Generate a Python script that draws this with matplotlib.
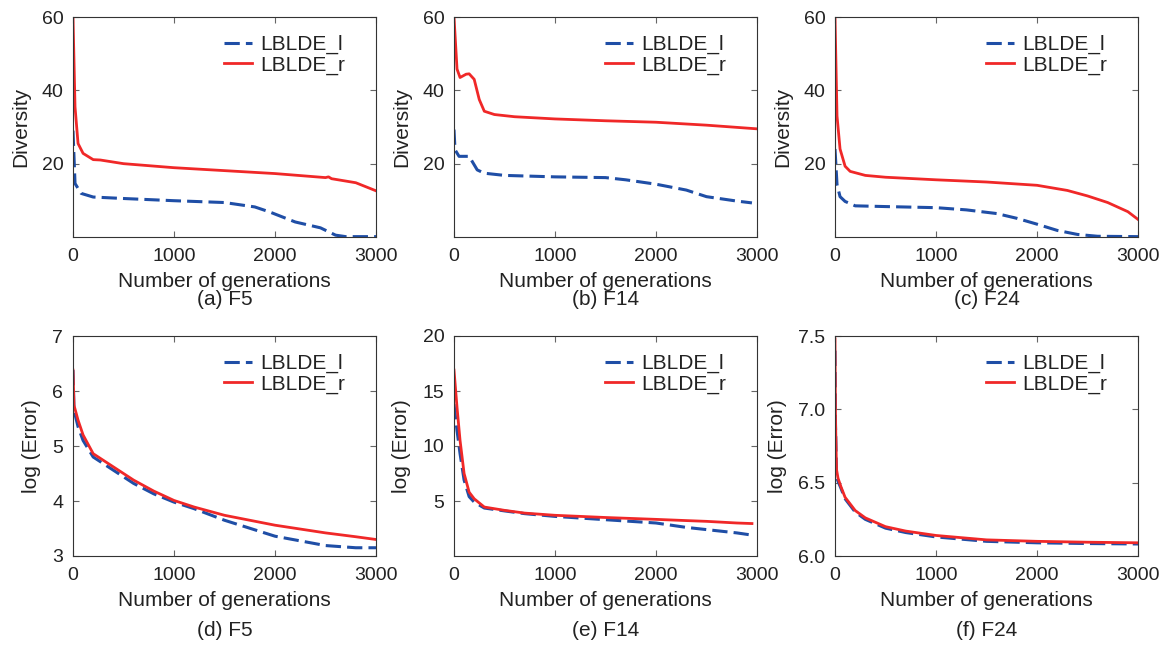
import matplotlib
matplotlib.use('Agg')
import matplotlib.pyplot as plt

plt.rcParams['font.family'] = ['Liberation Sans', 'DejaVu Sans']

# ── data ─────────────────────────────────────────────────────────────────────
# (a) F5 diversity
a_x_r = [0, 20, 50, 100, 200, 270, 500, 1000, 1500, 2000, 2500, 2530, 2560, 2800, 3000]
a_y_r = [60, 35.5, 25.5, 22.8, 21.1, 21, 20, 18.9, 18.1, 17.3, 16.2, 16.4, 15.9, 14.8, 12.6]
a_x_l = [0, 20, 80, 200, 500, 1000, 1500, 1800, 1950, 2200, 2450, 2600, 2700, 3000]
a_y_l = [29, 14.6, 11.9, 10.9, 10.5, 9.9, 9.4, 8.2, 6.8, 4.1, 2.5, 0.5, 0.1, 0.1]

# (b) F14 diversity
b_x_r = [0, 30, 60, 120, 150, 200, 250, 300, 400, 600, 1000, 1500, 2000, 2500, 3000]
b_y_r = [60, 45.8, 43.5, 44.4, 44.5, 43, 37.5, 34.3, 33.4, 32.8, 32.2, 31.7, 31.3, 30.5, 29.5]
b_x_l = [0, 10, 50, 150, 230, 300, 500, 1000, 1500, 1700, 2000, 2300, 2500, 2800, 2950]
b_y_l = [29.3, 23.8, 22, 22, 18.3, 17.4, 16.8, 16.4, 16.2, 15.6, 14.4, 12.8, 11, 9.8, 9.3]

# (c) F24 diversity
c_x_r = [0, 20, 50, 100, 150, 300, 500, 1000, 1500, 2000, 2300, 2500, 2700, 2900, 3000]
c_y_r = [60, 33, 24, 19.3, 17.9, 16.8, 16.3, 15.6, 15, 14.1, 12.7, 11.2, 9.4, 6.9, 4.8]
c_x_l = [0, 20, 50, 100, 200, 500, 1000, 1300, 1600, 1800, 2000, 2200, 2400, 2600, 3000]
c_y_l = [24, 14.3, 11, 9.7, 8.5, 8.3, 8, 7.4, 6.4, 5.1, 3.5, 1.8, 0.7, 0.2, 0.1]

# (d) F5 log(error)
d_x = [0, 10, 50, 100, 200, 400, 600, 800, 1000, 1200, 1500, 2000, 2500, 2800, 3000]
d_y_r = [6.38, 5.74, 5.47, 5.2, 4.86, 4.62, 4.38, 4.18, 4.01, 3.89, 3.74, 3.56, 3.42, 3.35, 3.30]
d_y_l = [6.38, 5.65, 5.35, 5.1, 4.8, 4.56, 4.32, 4.13, 3.98, 3.86, 3.65, 3.36, 3.19, 3.15, 3.15]

# (e) F14 log(error)
e_x = [0, 30, 60, 100, 150, 200, 300, 500, 700, 1000, 1500, 2000, 2300, 2500, 2800, 2950]
e_y_r = [16.9, 13.5, 10.5, 7.5, 5.8, 5.2, 4.45, 4.15, 3.9, 3.7, 3.5, 3.33, 3.22, 3.15, 3.0, 2.95]
e_y_l = [13.8, 11.4, 9.3, 6.9, 5.4, 4.9, 4.36, 4.1, 3.85, 3.6, 3.3, 3.0, 2.6, 2.4, 2.1, 1.9]

# (f) F24 log(error)
f_x = [0, 5, 15, 30, 60, 100, 200, 300, 500, 700, 1000, 1500, 2000, 2500, 3000]
f_y_r = [7.48, 6.93, 6.59, 6.53, 6.47, 6.40, 6.31, 6.26, 6.20, 6.17, 6.14, 6.11, 6.10, 6.094, 6.09]
f_y_l = [7.4, 6.9, 6.54, 6.51, 6.46, 6.39, 6.30, 6.25, 6.19, 6.16, 6.13, 6.10, 6.09, 6.085, 6.082]

captions = ['(a) F5', '(b) F14', '(c) F24', '(d) F5', '(e) F14', '(f) F24']
x_ticks = [0, 1000, 2000, 3000]

panels = [
    (a_x_l, a_y_l, a_x_r, a_y_r, (0, 60), [20, 40, 60], 'Diversity'),
    (b_x_l, b_y_l, b_x_r, b_y_r, (0, 60), [20, 40, 60], 'Diversity'),
    (c_x_l, c_y_l, c_x_r, c_y_r, (0, 60), [20, 40, 60], 'Diversity'),
    (d_x, d_y_l, d_x, d_y_r, (3, 7), [3, 4, 5, 6, 7], 'log (Error)'),
    (e_x, e_y_l, e_x, e_y_r, (0, 20), [5, 10, 15, 20], 'log (Error)'),
    (f_x, f_y_l, f_x, f_y_r, (6.0, 7.5), [6.0, 6.5, 7.0, 7.5], 'log (Error)'),
]

BLUE = '#1f4ea6'
RED = '#f02828'

fig = plt.figure(figsize=(11.67, 6.45), dpi=100)

# axes boxes in pixels
lefts = [73, 454, 835]
tops = [17, 336]
W, H = 303, 220

for i, (xl, yl, xr, yr, ylim, yt, ylab) in enumerate(panels):
    row, col = divmod(i, 3)
    l = lefts[col] / 1167
    b = 1 - (tops[row] + H) / 645
    ax = fig.add_axes([l, b, W / 1167, H / 645])
    ax.plot(xl, yl, color=BLUE, lw=2.2, dashes=(5, 2), label='LBLDE_l')
    ax.plot(xr, yr, color=RED, lw=2.0, label='LBLDE_r')
    ax.set_xlim(0, 3000)
    ax.set_ylim(*ylim)
    ax.set_xticks(x_ticks)
    ax.set_yticks(yt)
    if ylim == (6.0, 7.5):
        ax.set_yticklabels(['6.0', '6.5', '7.0', '7.5'])
    ax.tick_params(direction='in', top=True, right=True, length=4,
                   color='#666666', labelcolor='#222222', labelsize=14)
    ax.tick_params(axis='x', pad=8)
    ax.tick_params(axis='y', pad=7)
    for s in ax.spines.values():
        s.set_color('#333333')
    ax.set_xlabel('Number of generations', fontsize=15, labelpad=5, color='#222222')
    ax.set_ylabel(ylab, fontsize=15, labelpad=8, color='#222222')
    leg = ax.legend(loc='upper right', bbox_to_anchor=(0.924, 0.955),
                    borderaxespad=0, frameon=False, handlelength=1.35,
                    handletextpad=0.38, labelspacing=0.05, fontsize=15)
    for t in leg.get_texts():
        t.set_color('#222222')
    cx = l + W / 1167 / 2
    cy = 1 - (300 if row == 0 else 630) / 645
    fig.text(cx, cy, captions[i], ha='center', va='center', fontsize=15,
             color='#222222')

plt.savefig('out.png', dpi=100)
